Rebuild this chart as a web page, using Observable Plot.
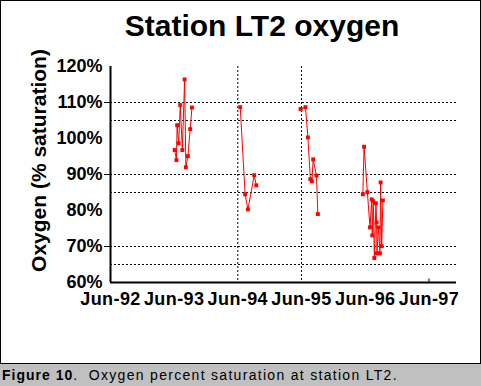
<!DOCTYPE html>
<html>
<head>
<meta charset="utf-8">
<script src="https://cdn.jsdelivr.net/npm/d3@7"></script>
<script src="https://cdn.jsdelivr.net/npm/@observablehq/plot@0.6"></script>
<style>
  html, body { margin: 0; padding: 0; background: #c0c0c0; }
  #wrap { position: relative; width: 481px; height: 386px; background: #c0c0c0; overflow: hidden; }
  #chart { position: absolute; left: 0; top: 0; width: 481px; height: 364px; background: white; }
  #chart svg { display: block; }
  #chart g[aria-label="x-axis tick label"] text { letter-spacing: 0.4px; }
  #border { position: absolute; left: 0; top: 0; width: 481px; height: 364px; box-sizing: border-box; border: 1px solid black; pointer-events: none; }
  #caption { position: absolute; left: 0; top: 364px; width: 481px; height: 22px; line-height: 22px;
    font-family: Arial, "Liberation Sans", sans-serif; font-size: 14px; letter-spacing: 1.3px; padding-left: 2px; color: black; white-space: nowrap; }
  #caption b { letter-spacing: 1px; }
</style>
</head>
<body>
<div id="wrap">
  <div id="chart"></div>
  <div id="border"></div>
  <div id="caption"><b>Figure 10</b>.&nbsp; Oxygen percent saturation at station LT2.</div>
</div>
<script>
// ---- data ----
const sampleDates = [
  "1993-06-04","1993-06-14","1993-06-18","1993-06-27","1993-07-06","1993-07-18","1993-07-31","1993-08-07","1993-08-19","1993-09-01","1993-09-11",
  "1994-06-15","1994-07-13","1994-07-29","1994-09-03","1994-09-15",
  "1995-05-27","1995-06-24","1995-07-08","1995-07-22","1995-07-31","1995-08-07","1995-08-26","1995-09-03",
  "1996-05-18","1996-05-25","1996-06-13","1996-06-28","1996-07-08","1996-07-11","1996-07-17","1996-07-23","1996-08-01","1996-08-05","1996-08-07","1996-08-15","1996-08-24","1996-08-28","1996-09-03","1996-09-10"
];
const oxygenSaturation = [
  96.8, 94.0, 103.7, 98.7, 109.3, 96.8, 116.4, 92.0, 95.1, 102.6, 108.6,
  108.7, 84.5, 80.3, 89.8, 87.0,
  108.2, 108.7, 100.3, 88.7, 88.1, 94.2, 89.7, 79.0,
  84.5, 97.7, 85.1, 75.3, 83.1, 73.1, 82.6, 66.8, 82.0, 76.7, 68.1, 75.3, 68.1, 87.8, 70.1, 82.8
];
const season = [
  1993,1993,1993,1993,1993,1993,1993,1993,1993,1993,1993,
  1994,1994,1994,1994,1994,
  1995,1995,1995,1995,1995,1995,1995,1995,
  1996,1996,1996,1996,1996,1996,1996,1996,1996,1996,1996,1996,1996,1996,1996,1996
];
const xTickDates = ["1992-06-01","1993-06-01","1994-06-01","1995-06-01","1996-06-01","1997-06-01"];
const xTickLabels = ["Jun-92","Jun-93","Jun-94","Jun-95","Jun-96","Jun-97"];
const xDomainDates = ["1992-06-01","1997-11-06"];
const yTickValues = [60,70,80,90,100,110,120];
const yTickLabels = ["60%","70%","80%","90%","100%","110%","120%"];
const yTickMarks = [110,90,70];
const refLevels = [110,105,90,85,70,65];
const refDates = ["1994-06-01","1995-06-01"];
const markDate = ["1997-06-01"];
const titleText = "Station LT2 oxygen";
const yTitle = "Oxygen (% saturation)";

// ---- build table ----
const data = sampleDates.map((d, i) => ({date: new Date(d), value: oxygenSaturation[i], season: season[i]}));
const xTicks = xTickDates.map(d => new Date(d));
const xDomain = xDomainDates.map(d => new Date(d));
const font = "Arial, 'Liberation Sans', sans-serif";

const chart = Plot.plot({
  width: 481,
  height: 364,
  marginLeft: 110,
  marginRight: 25,
  marginTop: 66,
  marginBottom: 82,
  x: {type: "utc", domain: xDomain},
  y: {domain: [60, 120]},
  style: {fontFamily: font, background: "white", color: "black", overflow: "visible"},
  marks: [
    Plot.ruleY(refLevels, {stroke: "black", strokeWidth: 1, strokeDasharray: "2,2"}),
    Plot.ruleX(refDates.map(d => new Date(d)), {stroke: "black", strokeWidth: 1, strokeDasharray: "2,2"}),
    Plot.line(data, {x: "date", y: "value", z: "season", stroke: "#ff0000", strokeWidth: 1}),
    Plot.dot(data, {x: "date", y: "value", symbol: "square", r: 2.2, fill: "#ff0000", stroke: "none"}),
    Plot.ruleY([60], {stroke: "black", strokeWidth: 2}),
    Plot.ruleX([xDomain[0]], {stroke: "black", strokeWidth: 2}),
    Plot.ruleX(markDate.map(d => new Date(d)), {y1: 60, y2: 61, stroke: "black", strokeWidth: 1}),
    Plot.axisX({
      ticks: xTicks,
      tickFormat: d => xTickLabels[xTicks.findIndex(t => +t === +d)],
      tickSize: 0, tickPadding: 10, fontSize: 18, fontWeight: "bold", label: null
    }),
    Plot.axisY({
      ticks: yTickValues,
      tickFormat: v => yTickLabels[yTickValues.indexOf(v)],
      tickSize: 0, tickPadding: 8, fontSize: 18, fontWeight: "bold", label: null
    }),
    Plot.axisY({ticks: yTickMarks, tickSize: 6, tickFormat: () => "", label: null, stroke: "black"}),
    Plot.text([titleText], {text: d => d, frameAnchor: "top", dx: -21.5, dy: -31, lineAnchor: "bottom",
      fontSize: 30, fontWeight: "bold", fill: "black"}),
    Plot.text([yTitle], {text: d => d, frameAnchor: "left", rotate: -90, dx: -65, dy: -14, lineAnchor: "bottom",
      textAnchor: "middle", fontSize: 21, fontWeight: "bold", fill: "black"})
  ]
});
document.getElementById("chart").appendChild(chart);
</script>
</body>
</html>
